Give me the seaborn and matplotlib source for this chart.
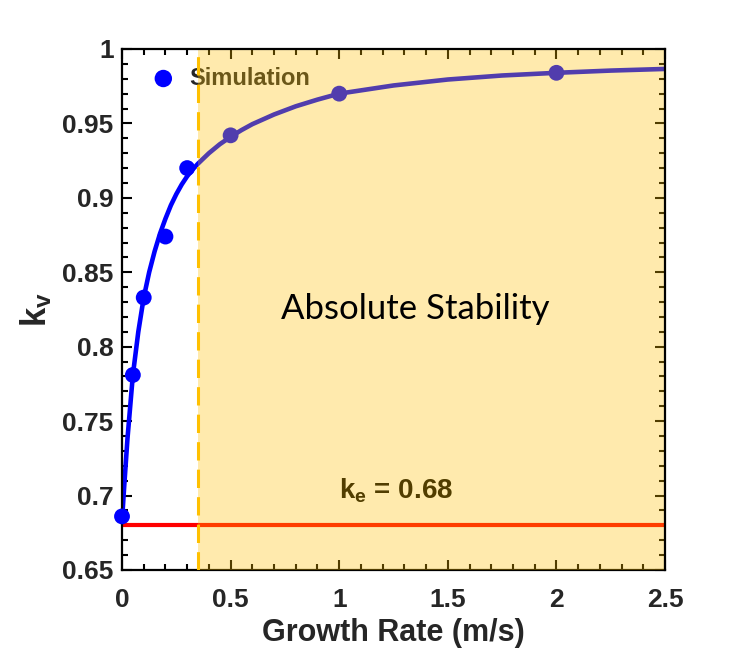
import matplotlib
matplotlib.use("Agg")
import matplotlib.pyplot as plt
import seaborn as sns
import pandas as pd
from matplotlib.ticker import MultipleLocator

# simulation points
sim_rate = [0.0, 0.05, 0.1, 0.2, 0.3, 0.5, 1.0, 2.0]
sim_kv = [0.686, 0.781, 0.833, 0.874, 0.920, 0.942, 0.970, 0.984]

# fitted curve
fit_rate = [0.0, 0.01, 0.025, 0.05, 0.075, 0.1, 0.125, 0.15, 0.175, 0.2, 0.225,
            0.25, 0.275, 0.3, 0.325, 0.35, 0.4, 0.45, 0.5, 0.55, 0.6, 0.7, 0.8,
            0.9, 1.0, 1.25, 1.5, 1.75, 2.0, 2.25, 2.5]
fit_kv = [0.683, 0.706, 0.738, 0.781, 0.810, 0.833, 0.850, 0.864, 0.876, 0.886, 0.895,
          0.9025, 0.909, 0.9145, 0.919, 0.923, 0.930, 0.936, 0.941, 0.9455, 0.9495, 0.956, 0.9615,
          0.966, 0.970, 0.9755, 0.9795, 0.9822, 0.984, 0.9855, 0.9866]

ke = 0.68
stable_from = 0.35
x_ticks = [0, 0.5, 1, 1.5, 2, 2.5]
x_tick_labels = ["0", "0.5", "1", "1.5", "2", "2.5"]
y_ticks = [0.65, 0.7, 0.75, 0.8, 0.85, 0.9, 0.95, 1.0]
y_tick_labels = ["0.65", "0.7", "0.75", "0.8", "0.85", "0.9", "0.95", "1"]

sim_df = pd.DataFrame({"rate": sim_rate, "kv": sim_kv})
fit_df = pd.DataFrame({"rate": fit_rate, "kv": fit_kv})

sns.set_style("ticks")
plt.rcParams["font.family"] = ["Liberation Sans", "DejaVu Sans"]
plt.rcParams["mathtext.fontset"] = "custom"
plt.rcParams["mathtext.rm"] = "Liberation Sans:bold"
plt.rcParams["mathtext.it"] = "Liberation Sans:bold"
plt.rcParams["mathtext.bf"] = "Liberation Sans:bold"

fig = plt.figure(figsize=(7.35, 6.55), dpi=100)
ax = fig.add_axes([0.166, 0.1298, 0.7388, 0.7954])

sns.lineplot(data=fit_df, x="rate", y="kv", ax=ax, color="#0000FF", lw=3.3,
             zorder=2, legend=False)
sns.scatterplot(data=sim_df, x="rate", y="kv", ax=ax, color="#0000FF", s=130,
                edgecolor="none", zorder=3, label="Simulation", clip_on=False)
ax.axhline(ke, color="#FF0000", lw=3, zorder=2)

# stability shading sits on top of marks, like the original overlay
ax.axvspan(stable_from, 2.5, color="#FFC000", alpha=0.32, lw=0, zorder=4)
ax.axvline(stable_from, color="#FFC000", lw=2.2, ls=(0, (6, 3)), zorder=6)

ax.text(1.35, 0.825, "Absolute Stability", family=["Lato", "DejaVu Sans"],
        fontsize=25, ha="center", va="center", color="black", zorder=7)
ax.text(1.0, 0.7035, r"$\mathregular{k_e}$ = 0.68", fontsize=20, fontweight="bold",
        ha="left", va="center", color="black", zorder=3)

leg = ax.legend(loc="upper left", frameon=False, handletextpad=0.1,
                borderaxespad=0.35, markerscale=1.1, prop={"weight": "bold", "size": 17})
leg.set_zorder(3)

ax.set_xlim(0, 2.5)
ax.set_ylim(0.65, 1.0)
ax.set_xticks(x_ticks)
ax.set_xticklabels(x_tick_labels)
ax.set_yticks(y_ticks)
ax.set_yticklabels(y_tick_labels)
ax.xaxis.set_minor_locator(MultipleLocator(0.1))
ax.yaxis.set_minor_locator(MultipleLocator(0.01))
ax.tick_params(which="both", direction="in", top=True, right=True, width=1.5,
               color="black", zorder=1)
ax.tick_params(which="major", length=7, labelsize=19)
ax.tick_params(which="minor", length=4)
ax.tick_params(axis="x", which="major", pad=13)
ax.tick_params(axis="y", which="major", pad=6)
for lab in ax.get_xticklabels() + ax.get_yticklabels():
    lab.set_fontweight("bold")

for side, sp in ax.spines.items():
    sp.set_linewidth(1.6)
    sp.set_color("black")
ax.spines["top"].set_zorder(5)
ax.spines["right"].set_zorder(5)

ax.set_xlabel("Growth Rate (m/s)", fontsize=22, fontweight="bold", labelpad=4)
ax.set_ylabel(r"$\mathregular{k_v}$", fontsize=25, fontweight="bold", labelpad=6)

fig.savefig("out.png", dpi=100)
